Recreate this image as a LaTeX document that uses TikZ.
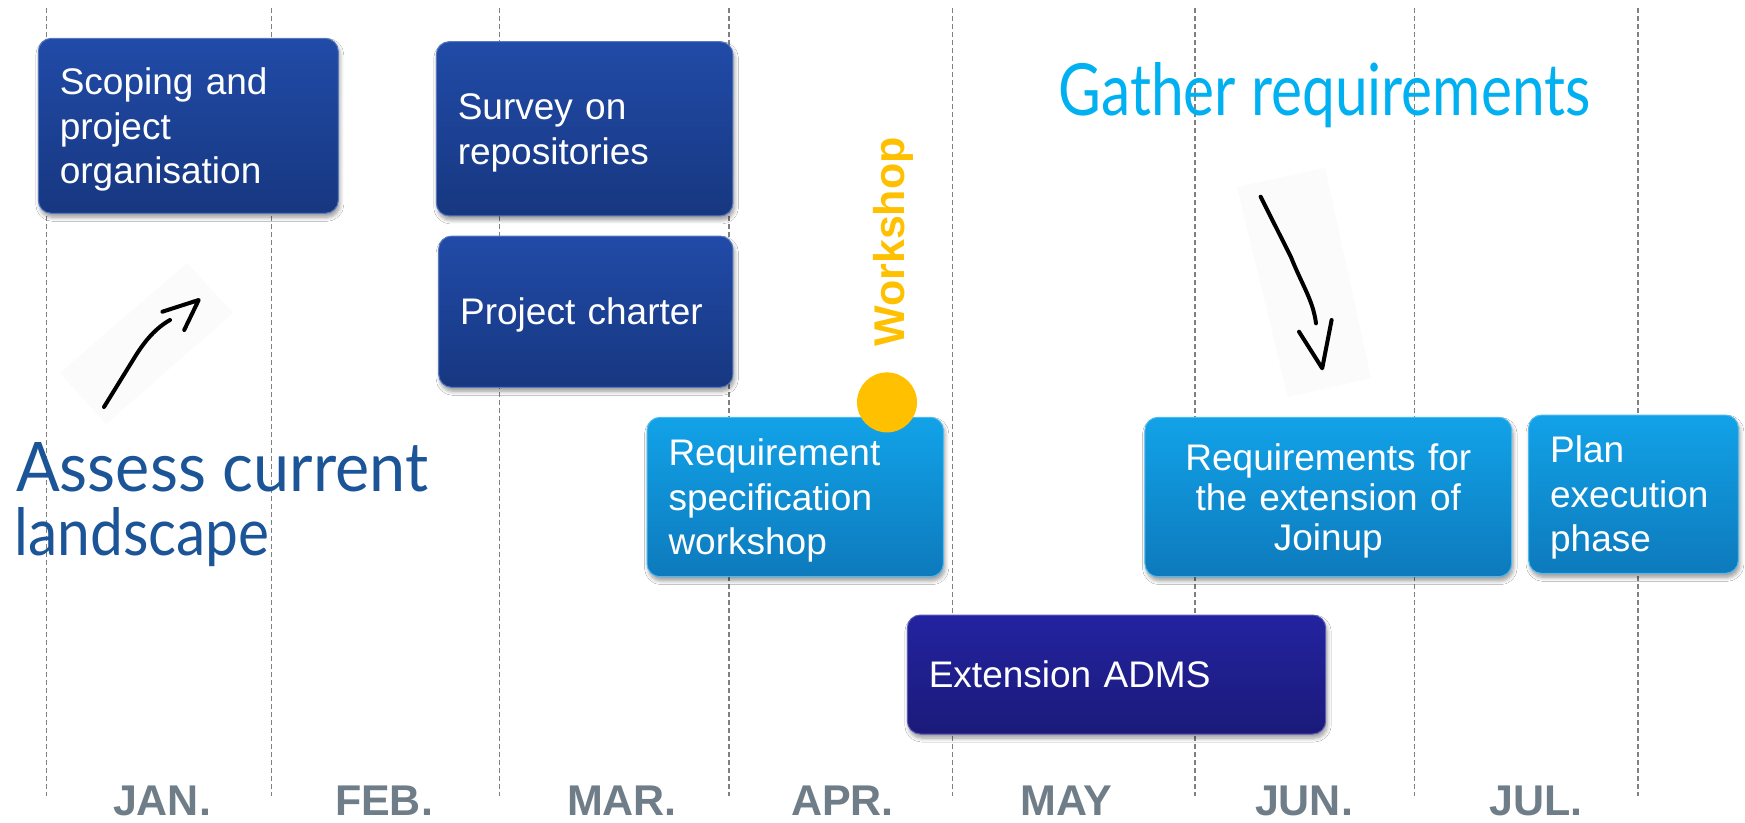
\documentclass[tikz,border=0pt]{standalone}
\usepackage{fontspec}
\setmainfont{Liberation Sans}
\newfontfamily\handfont{Lato}
\usepackage{graphicx}
\usetikzlibrary{shadows,shadows.blur}
\definecolor{dkTop}{HTML}{214BA8}
\definecolor{dkBot}{HTML}{173780}
\definecolor{ltTop}{HTML}{12A2E8}
\definecolor{ltBot}{HTML}{0D7ABC}
\definecolor{puTop}{HTML}{2323A0}
\definecolor{puBot}{HTML}{1B1A7A}
\definecolor{monthgray}{HTML}{6E7D87}
\definecolor{wsyellow}{HTML}{FFC000}
\definecolor{handblue}{HTML}{1B5497}
\definecolor{handcyan}{HTML}{00B0F0}
\tikzset{
  divider/.style={draw=black!50, line width=1.2pt, dash pattern=on 5pt off 3pt},
  month/.style={anchor=base, inner sep=0pt, text=monthgray, font=\fontsize{43}{50}\selectfont\bfseries},
  taskbox/.style={rectangle, rounded corners=13pt, inner xsep=21.5pt, inner ysep=0pt,
    text=white, font=\fontsize{37}{44.5}\selectfont, align=left, text height=26.5pt,
    blur shadow={shadow xshift=1.5pt, shadow yshift=-4pt, shadow blur steps=6, shadow blur radius=4pt, shadow opacity=40}},
  darkbox/.style={taskbox, top color=dkTop, bottom color=dkBot, draw=dkTop!75!white, line width=1pt},
  lightbox/.style={taskbox, top color=ltTop, bottom color=ltBot, draw=ltTop!75!white, line width=1pt},
  purplebox/.style={taskbox, top color=puTop, bottom color=puBot, draw=puTop!75!white, line width=1pt},
  hand/.style={draw=black, line width=4pt, line cap=round, line join=round},
  handtext/.style={anchor=base west, inner sep=0pt},
  faint/.style={fill=black!1.5}
}
\begin{document}
\begin{tikzpicture}[x=1pt,y=-1pt]
\useasboundingbox[fill=white] (0,0) rectangle (1745,822);

% faint backgrounds of the hand-drawn arrows
\fill[faint] (187,263) -- (233,313) -- (106,424) -- (60,373) -- cycle;
\fill[faint] (1237,187) -- (1325,168) -- (1371,378) -- (1288,397) -- cycle;

% month dividers
\foreach \x in {46.7,271.5,499.7,729,952.6,1195,1414.5,1638}
  \draw[divider] (\x,8) -- (\x,796);

% month labels
\node[month] (jan) at (162,815.5) {JAN.};
\node[month] (feb) at (384,815.5) {FEB.};
\node[month] (mar) at (622,815.5) {MAR.};
\node[month] (apr) at (842.5,815.5) {APR.};
\node[month] (may) at (1066,815.5) {MAY};
\node[month] (jun) at (1304,815.5) {JUN.};
\node[month] (jul) at (1536,815.5) {JUL.};

% task boxes
\node[darkbox, text width=257pt, minimum height=175pt, text depth=89pt] (scoping) at (188.3,125.8)
  {Scoping and\\project\\organisation};
\node[darkbox, text width=253.7pt, minimum height=174.3pt, text depth=44.5pt] (survey) at (584.6,128.8)
  {Survey on\\repositories};
\node[darkbox, text width=251.3pt, minimum height=151.3pt, text depth=0pt] (charter) at (585.8,311.7)
  {Project charter};
\node[lightbox, text width=253.4pt, minimum height=159.4pt, text depth=89pt] (reqspec) at (795.2,497)
  {Requirement\\specification\\workshop};
\node[lightbox, text width=323.7pt, minimum height=159.4pt, align=center, text depth=80pt,
      font=\fontsize{37}{40}\selectfont] (joinup) at (1328.3,497)
  {Requirements for\\the extension of\\Joinup};
\node[lightbox, text width=166.7pt, minimum height=158.3pt, text depth=89pt] (plan) at (1633.5,494.2)
  {Plan\\execution\\phase};
\node[purplebox, text width=375.4pt, minimum height=119pt, text depth=0pt] (adms) at (1116.5,674.5)
  {Extension ADMS};

% workshop milestone
\node[circle, fill=wsyellow, minimum size=60pt, inner sep=0pt] (wsdot) at (887,402.4) {};
\node[rotate=90, anchor=base, inner sep=0pt, text=wsyellow,
      font=\fontsize{43}{50}\selectfont\bfseries] (wslabel) at (904.3,242) {Workshop};

% handwritten labels
\node[handtext, text=handcyan] (gather) at (1058.4,115)
  {\resizebox{532pt}{53pt}{\handfont Gather requirements}};
\node[handtext, text=handblue] (assess) at (16,491.7)
  {\resizebox{412pt}{49pt}{\handfont Assess current}};
\node[handtext, text=handblue] (landscape) at (14.4,555)
  {\resizebox{255pt}{48pt}{\handfont landscape}};

% hand-drawn arrow 1 (up-right)
\coordinate (a1s) at (104,407);
\coordinate (a1m) at (133,360);
\coordinate (a1e) at (170,320);
\coordinate (a1tip) at (198.7,300);
\coordinate (a1b1) at (162.4,311.7);
\coordinate (a1b2) at (184.2,330);
\draw[hand] (a1s) -- (a1m) .. controls (145,340) and (156,328) .. (a1e);
\draw[hand] (a1b1) -- (a1tip) -- (a1b2);

% hand-drawn arrow 2 (down)
\coordinate (a2s) at (1260.6,196.7);
\coordinate (a2m) at (1290.8,256.7);
\coordinate (a2e) at (1316,323.3);
\coordinate (a2tip) at (1322.2,368.3);
\coordinate (a2b1) at (1299,331.7);
\coordinate (a2b2) at (1331.6,320);
\draw[hand] (a2s) -- (a2m) .. controls (1302,285) and (1313,300) .. (a2e);
\draw[hand] (a2b1) -- (a2tip) -- (a2b2);
\end{tikzpicture}
\end{document}
